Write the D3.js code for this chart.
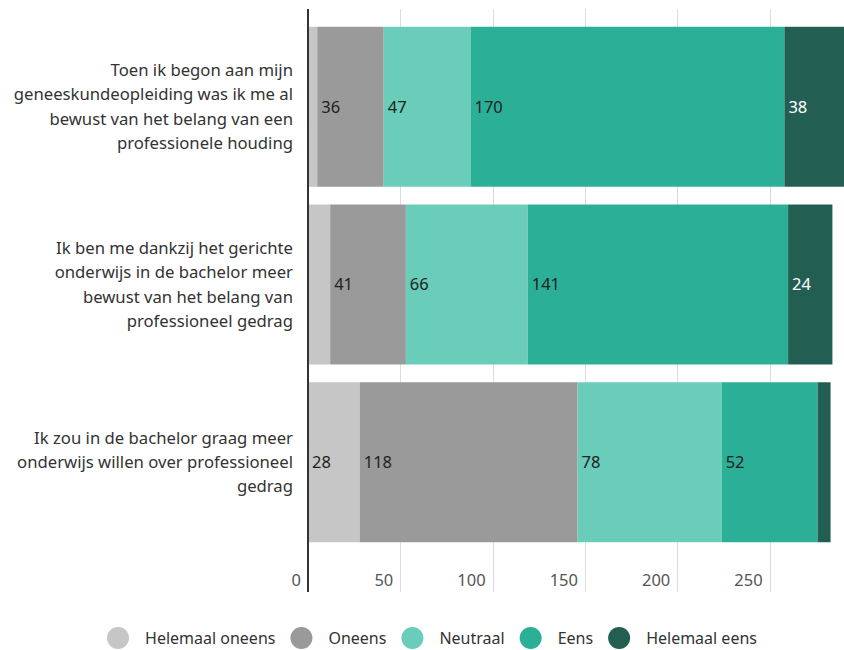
<!DOCTYPE html>
<html>
<head>
<meta charset="utf-8">
<script src="https://cdn.jsdelivr.net/npm/d3@7"></script>
<style>
  html, body { margin: 0; padding: 0; background: #fff; overflow: hidden; }
  svg { display: block; font-family: "Noto Sans", sans-serif; }
</style>
</head>
<body>
<svg id="chart" width="844" height="650"></svg>
<script>
// ---- Data ----
const categories = [
  "Toen ik begon aan mijn geneeskundeopleiding was ik me al bewust van het belang van een professionele houding",
  "Ik ben me dankzij het gerichte onderwijs in de bachelor meer bewust van het belang van professioneel gedrag",
  "Ik zou in de bachelor graag meer onderwijs willen over professioneel gedrag"
];
const categoryLines = [
  ["Toen ik begon aan mijn", "geneeskundeopleiding was ik me al", "bewust van het belang van een", "professionele houding"],
  ["Ik ben me dankzij het gerichte", "onderwijs in de bachelor meer", "bewust van het belang van", "professioneel gedrag"],
  ["Ik zou in de bachelor graag meer", "onderwijs willen over professioneel", "gedrag"]
];
const seriesNames = ["Helemaal oneens", "Oneens", "Neutraal", "Eens", "Helemaal eens"];
const helemaalOneens = [5, 12, 28];
const oneens = [36, 41, 118];
const neutraal = [47, 66, 78];
const eens = [170, 141, 52];
const helemaalEens = [38, 24, 7];
const tickValues = [0, 50, 100, 150, 200, 250];
const colors = ["#c6c6c6", "#9a9a9a", "#6acdb9", "#2bb097", "#235e52"];
const labelColors = ["#222", "#222", "#222", "#222", "#fff"];

// ---- Build table ----
const seriesValues = [helemaalOneens, oneens, neutraal, eens, helemaalEens];
const table = categories.map((c, i) => {
  const row = { category: c };
  seriesNames.forEach((s, j) => row[s] = seriesValues[j][i]);
  return row;
});
const stacked = d3.stack().keys(seriesNames)(table);

const svg = d3.select("#chart");
const x0 = 308;
const x = d3.scaleLinear().domain([0, 290]).range([x0, 843.5]);
const y = d3.scaleBand().domain(categories).range([9, 560]).paddingInner(0.1).paddingOuter(0.1);
const plotTop = 9, plotBottom = 592;

// gridlines
svg.append("g").selectAll("line")
  .data(tickValues.filter(d => d > 0))
  .join("line")
  .attr("x1", d => Math.round(x(d)) + 0.5).attr("x2", d => Math.round(x(d)) + 0.5)
  .attr("y1", plotTop).attr("y2", plotBottom)
  .attr("stroke", "#dcdcdc").attr("stroke-width", 1);

// tick labels
svg.append("g").selectAll("text")
  .data(tickValues)
  .join("text")
  .attr("x", d => x(d) - 7)
  .attr("y", 580)
  .attr("dy", "0.35em")
  .attr("text-anchor", "end")
  .attr("font-size", 16.5)
  .attr("fill", "#555")
  .text(d => d);

// bars
const groups = svg.append("g").selectAll("g")
  .data(stacked)
  .join("g")
  .attr("fill", (d, i) => colors[i]);

groups.selectAll("rect")
  .data(d => d)
  .join("rect")
  .attr("x", d => x(d[0]))
  .attr("y", d => y(d.data.category))
  .attr("width", d => x(d[1]) - x(d[0]))
  .attr("height", y.bandwidth());

// value labels
stacked.forEach((s, si) => {
  svg.append("g").selectAll("text")
    .data(s)
    .join("text")
    .attr("x", d => x(d[0]) + 4)
    .attr("y", d => y(d.data.category) + y.bandwidth() / 2)
    .attr("dy", "0.35em")
    .attr("font-size", 16.5)
    .attr("fill", labelColors[si])
    .text(d => (x(d[1]) - x(d[0]) > 30 ? (d[1] - d[0]) : ""));
});

// axis line
svg.append("line")
  .attr("x1", x0).attr("x2", x0)
  .attr("y1", plotTop).attr("y2", plotBottom)
  .attr("stroke", "#333").attr("stroke-width", 2);

// category labels
const lineH = 24.4;
categories.forEach((c, i) => {
  const lines = categoryLines[i];
  const cy = y(c) + y.bandwidth() / 2;
  const startY = cy - (lines.length - 1) * lineH / 2;
  svg.append("text")
    .attr("text-anchor", "end")
    .attr("font-size", 16.7)
    .attr("fill", "#333")
    .selectAll("tspan")
    .data(lines)
    .join("tspan")
    .attr("x", 293)
    .attr("y", (d, k) => startY + k * lineH)
    .attr("dy", "0.35em")
    .text(d => d);
});

// legend
const legend = svg.append("g");
const items = legend.selectAll("g").data(seriesNames).join("g");
items.append("circle").attr("r", 11).attr("cx", 0).attr("cy", 0).attr("fill", (d, i) => colors[i]);
items.append("text").attr("x", 27).attr("dy", "0.35em").attr("font-size", 16).attr("fill", "#333").text(d => d);
let cx = 0;
items.each(function() {
  const g = d3.select(this);
  g.attr("transform", `translate(${cx},0)`);
  const w = g.select("text").node().getComputedTextLength();
  cx += 27 + w + 26;
});
const totalW = cx - 26 + 11;
legend.attr("transform", `translate(${432 - totalW / 2 + 11},638)`);
</script>
</body>
</html>
